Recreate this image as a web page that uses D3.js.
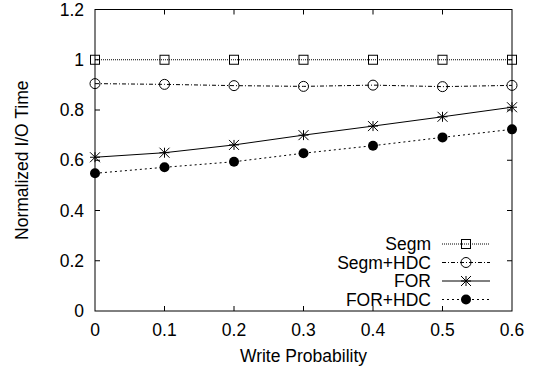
<!DOCTYPE html>
<html>
<head>
<meta charset="utf-8">
<script src="https://cdn.jsdelivr.net/npm/d3@7"></script>
<style>
body { margin: 0; background: #fff; }
svg text { font-family: "Liberation Sans", Arial, sans-serif; font-size: 17.5px; fill: #000; }
</style>
</head>
<body>
<svg width="538" height="374"></svg>
<script>
var probs = [0, 0.1, 0.2, 0.3, 0.4, 0.5, 0.6];
var segm = [1, 1, 1, 1, 1, 1, 1];
var segmHdc = [0.905, 0.902, 0.897, 0.894, 0.899, 0.893, 0.898];
var forT = [0.612, 0.630, 0.661, 0.700, 0.736, 0.773, 0.811];
var forHdc = [0.548, 0.572, 0.594, 0.628, 0.658, 0.691, 0.723];
var seriesNames = ["Segm", "Segm+HDC", "FOR", "FOR+HDC"];
var xTicks = [0, 0.1, 0.2, 0.3, 0.4, 0.5, 0.6];
var yTicks = [0, 0.2, 0.4, 0.6, 0.8, 1, 1.2];

var svg = d3.select("svg");
var plotLeft = 95, plotRight = 512, plotTop = 9.5, plotBottom = 311;

var x = d3.scaleLinear().domain([0, 0.6]).range([plotLeft, plotRight]);
var y = d3.scaleLinear().domain([0, 1.2]).range([plotBottom, plotTop]);

var series = [
    {name: seriesNames[0], values: segm, dash: "1,1", marker: "square"},
    {name: seriesNames[1], values: segmHdc, dash: "4,2,1,2", marker: "circle"},
    {name: seriesNames[2], values: forT, dash: null, marker: "star"},
    {name: seriesNames[3], values: forHdc, dash: "2,3", marker: "dot"}
];

// frame
svg.append("rect")
    .attr("x", plotLeft).attr("y", plotTop)
    .attr("width", plotRight - plotLeft).attr("height", plotBottom - plotTop)
    .attr("fill", "none").attr("stroke", "#000").attr("stroke-width", 1);

// ticks (inward, mirrored)
var tick = 5;
svg.append("g").selectAll("path")
    .data(xTicks.slice(1, -1))
    .enter().append("path")
    .attr("d", function(d) {
        var px = x(d);
        return "M" + px + "," + plotBottom + "v" + (-tick) + "M" + px + "," + plotTop + "v" + tick;
    })
    .attr("stroke", "#000");

svg.append("g").selectAll("path")
    .data(yTicks.slice(1, -1))
    .enter().append("path")
    .attr("d", function(d) {
        var py = y(d);
        return "M" + plotLeft + "," + py + "h" + tick + "M" + plotRight + "," + py + "h" + (-tick);
    })
    .attr("stroke", "#000");

svg.append("g").selectAll("text")
    .data(xTicks)
    .enter().append("text")
    .attr("x", function(d) { return x(d); })
    .attr("y", 336)
    .attr("text-anchor", "middle")
    .text(function(d) { return d3.format("")(d); });

svg.append("g").selectAll("text")
    .data(yTicks)
    .enter().append("text")
    .attr("x", 84)
    .attr("y", function(d) { return y(d) + 6; })
    .attr("text-anchor", "end")
    .text(function(d) { return d3.format("")(d); });

svg.append("text")
    .attr("x", (plotLeft + plotRight) / 2)
    .attr("y", 362)
    .attr("text-anchor", "middle")
    .text("Write Probability");

svg.append("text")
    .attr("transform", "translate(28," + ((plotTop + plotBottom) / 2) + ") rotate(-90)")
    .attr("text-anchor", "middle")
    .text("Normalized I/O Time");

var line = d3.line()
    .x(function(d, i) { return x(probs[i]); })
    .y(function(d) { return y(d); });

function drawMarker(g, type, cx, cy) {
    if (type == "square") {
        g.append("rect").attr("x", cx - 4.5).attr("y", cy - 4.5)
            .attr("width", 9).attr("height", 9)
            .attr("fill", "none").attr("stroke", "#000");
    } else if (type == "circle") {
        g.append("circle").attr("cx", cx).attr("cy", cy).attr("r", 5)
            .attr("fill", "none").attr("stroke", "#000");
    } else if (type == "dot") {
        g.append("circle").attr("cx", cx).attr("cy", cy).attr("r", 5)
            .attr("fill", "#000");
    } else {
        var s = 5;
        g.append("path")
            .attr("d", "M" + (cx - s) + "," + (cy - s) + "L" + (cx + s) + "," + (cy + s) +
                "M" + (cx - s) + "," + (cy + s) + "L" + (cx + s) + "," + (cy - s) +
                "M" + cx + "," + (cy - s) + "V" + (cy + s) +
                "M" + (cx - s) + "," + cy + "H" + (cx + s))
            .attr("stroke", "#000").attr("fill", "none");
    }
}

series.forEach(function(s) {
    svg.append("path")
        .datum(s.values)
        .attr("d", line)
        .attr("fill", "none")
        .attr("stroke", "#000")
        .attr("stroke-width", 1)
        .attr("stroke-dasharray", s.dash);
    var g = svg.append("g");
    s.values.forEach(function(v, i) {
        drawMarker(g, s.marker, x(probs[i]), y(v));
    });
});

// legend
var legend = svg.append("g");
series.forEach(function(s, i) {
    var ly = 244 + i * 18.5;
    legend.append("text")
        .attr("x", 431).attr("y", ly + 6)
        .attr("text-anchor", "end")
        .text(s.name);
    legend.append("path")
        .attr("d", "M442," + ly + "H490")
        .attr("stroke", "#000")
        .attr("stroke-dasharray", s.dash);
    drawMarker(legend, s.marker, 466, ly);
});
</script>
</body>
</html>
